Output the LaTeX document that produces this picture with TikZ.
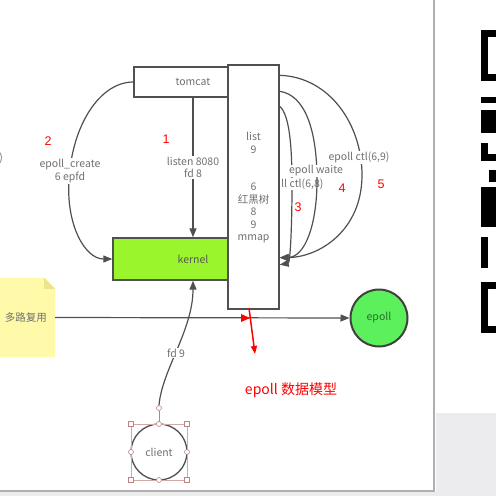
\documentclass[tikz,border=0pt]{standalone}
\usepackage{fontspec}
\setmainfont{Noto Sans CJK SC}
\newfontfamily\numfont{Liberation Sans}
\usetikzlibrary{arrows.meta,calc}
\definecolor{txtgray}{RGB}{112,112,112}
\definecolor{linegray}{RGB}{80,80,80}
\definecolor{kgreen}{RGB}{155,245,45}
\definecolor{egreen}{RGB}{92,240,92}
\definecolor{etext}{RGB}{45,110,45}
\definecolor{noteyellow}{RGB}{255,250,170}
\definecolor{notefold}{RGB}{235,228,140}
\definecolor{selpink}{RGB}{190,130,130}
\definecolor{pagegray}{RGB}{175,175,175}
\definecolor{bggray}{RGB}{236,236,238}
\begin{document}
\begin{tikzpicture}[x=1pt,y=-1pt,
  box/.style={draw=linegray, line width=1.4pt, fill=white, inner sep=0pt},
  lbl/.style={text=txtgray, font=\fontsize{10.5}{12.5}\selectfont, align=center, fill=white, inner sep=1pt},
  num/.style={text=red, font=\numfont\fontsize{12.5}{14}\selectfont},
  conn/.style={draw=linegray, line width=1.2pt, -{Triangle[length=9pt,width=7pt]}},
  selsq/.style={draw=selpink, fill=white, line width=0.6pt, minimum size=5pt, inner sep=0pt},
  selci/.style={circle, draw=selpink, fill=white, line width=0.6pt, minimum size=5pt, inner sep=0pt},
  qr/.style={fill=black}]
\useasboundingbox (0,0) rectangle (496,496);
% page background
\fill[white] (0,0) rectangle (496,496);
\fill[bggray] (436,413) rectangle (496,496);
\fill[bggray] (0,492) rectangle (436,496);
\draw[pagegray, line width=2pt] (434,0) -- (434,491) -- (0,491);
% QR fragment
\fill[qr] (481,30) rectangle (496,81);
\fill[white] (488,37) rectangle (496,74);
\fill[qr] (481,97) rectangle (496,103);
\fill[qr] (481,110) rectangle (496,133);
\fill[qr] (481,143) rectangle (488,161);
\fill[qr] (481,154) rectangle (496,161);
\fill[qr] (489,170) rectangle (496,182);
\fill[qr] (481,187) rectangle (496,227);
\fill[qr] (481,237) rectangle (488,268);
\fill[qr] (481,282) rectangle (496,333);
\fill[white] (488,289) rectangle (496,326);

% boxes
\node[box, fill=kgreen, minimum width=160pt, minimum height=42pt, text=black!65, font=\fontsize{10.5}{12}\selectfont] (kernel) at (193,259) {kernel};
\node[box, minimum width=118pt, minimum height=30pt, text=txtgray, font=\fontsize{10.5}{12}\selectfont] (tomcat) at (193,82) {tomcat};
\node[box, minimum width=51pt, minimum height=244pt] (list) at (253.5,187) {};
\node[lbl, fill=none] (listtxt) at (253.5,188) {list\\9\\~\\~\\6\\红黑树\\8\\9\\mmap};

% note
\node[minimum width=55pt, minimum height=79pt, inner sep=0pt] (note) at (27.5,317.5) {};
\fill[noteyellow] (note.north west) -- ($(note.north east)+(-11,0)$) -- ($(note.north east)+(0,11)$) -- (note.south east) -- (note.south west) -- cycle;
\fill[notefold] ($(note.north east)+(-11,0)$) -- ($(note.north east)+(-11,11)$) -- ($(note.north east)+(0,11)$) -- cycle;
\node[text=txtgray, font=\fontsize{10.5}{12}\selectfont] (notetxt) at (26,318) {多路复用};

% epoll and client
\node[circle, draw=black!75, line width=2pt, fill=egreen, minimum size=57pt, inner sep=0pt, text=etext, font=\fontsize{10.5}{12}\selectfont] (epoll) at (379,318) {epoll};
\node[circle, draw=linegray, line width=1.3pt, minimum size=56pt, inner sep=0pt, text=txtgray, font=\fontsize{10.5}{12}\selectfont] (client) at (159,452) {client};

% connectors
\draw[conn] (tomcat.south) -- node[lbl, pos=0.5]{listen 8080\\fd 8} (kernel.north);
\draw[conn] (tomcat.west) .. controls (100,82) and (72,125) .. (69,180) .. controls (66,225) and (85,259) .. (kernel.west);
\node[lbl] (l2) at (70,171) {epoll\_create\\6 epfd};

\coordinate (s5) at ($(list.north east)+(0,11)$);
\coordinate (s4) at ($(list.north east)+(0,27)$);
\coordinate (s3) at ($(list.north east)+(0,42)$);
\coordinate (e1) at ($(list.south east)+(0,-52)$);
\coordinate (e3) at ($(list.south east)+(0,-45)$);
\draw[conn] (s5) .. controls (330,77) and (362,125) .. (362,175) .. controls (362,230) and (320,257) .. (e1);
\node[lbl] (l5) at (359,157) {epoll ctl(6,9)};
\draw[conn] (s3) .. controls (290,115) and (292,150) .. (292,185) .. controls (292,230) and (290,263) .. (e3);
\node[lbl, anchor=west] (l3) at (280,184) {ll ctl(6,8)};
\draw[conn] (s4) .. controls (305,95) and (317,130) .. (317,180) .. controls (317,225) and (305,257) .. (e1);
\node[lbl] (l4) at (316,171) {epoll waite};

% client selection handles
\node[selci] (hdl) at (159,408) {};
\draw[selpink!70, line width=0.5pt] (131,424) rectangle (187,480);
\draw[selpink, line width=1pt] (hdl) -- (client.north);
\foreach \p in {(131,424),(187,424),(131,480),(187,480)} \node[selsq] at \p {};
\foreach \p in {(159,424),(131,452),(187,452),(159,480)} \node[selci] at \p {};
\draw[conn] (hdl.north) .. controls (162,370) and (193,330) .. (kernel.south);
\node[lbl] (l9) at (176,353) {fd 9};

% multiplexing line
\draw[conn] (note.east) -- (epoll.west);
\coordinate (rm) at (250,318);
\fill[red] (rm) -- ++(-9,-4) -- ++(0,8) -- cycle;
\coordinate (r1) at (249,308);
\coordinate (r2) at (255,354);
\draw[red, line width=1.5pt, -{Triangle[length=8pt,width=6pt]}] (r1) -- (r2);
\node[text=red, font=\fontsize{14}{16}\selectfont] (title) at (291,390) {epoll 数据模型};

% numbers
\node[num] (n1) at (166,139) {1};
\node[num] (n2) at (48,141) {2};
\node[num] (n3) at (298,207) {3};
\node[num] (n4) at (342,188) {4};
\node[num] (n5) at (381,184) {5};
\node[text=txtgray, anchor=east, inner sep=0pt, font=\fontsize{10.5}{12}\selectfont] (cut) at (3,158) {)};
\end{tikzpicture}
\end{document}
